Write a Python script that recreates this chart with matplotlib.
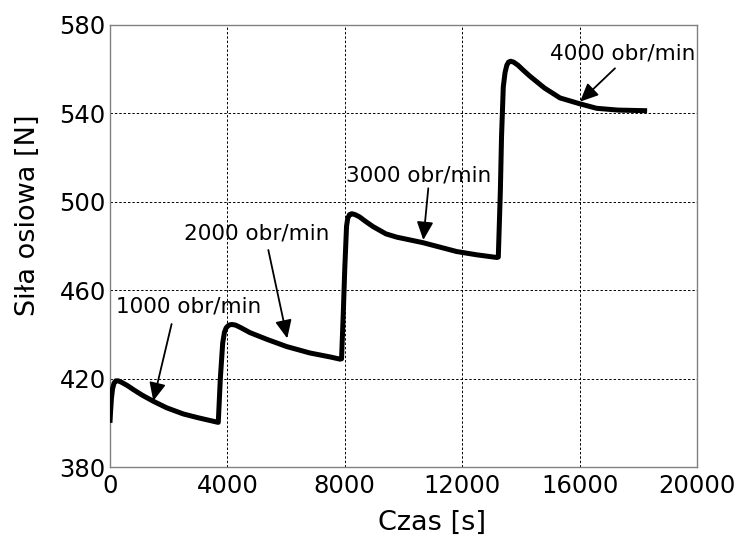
import matplotlib
matplotlib.use("Agg")
import matplotlib.pyplot as plt
import numpy as np

# --- data ---
t1 = [0, 20, 50, 90, 140, 200, 280, 400, 600, 800, 1100, 1470, 1930, 2500, 3000, 3650]
f1 = [400, 405, 411, 415.5, 418, 419, 419, 418.3, 416.8, 415, 412.5, 409.8, 406.8, 404, 402.3, 400.3]
t2 = [3690, 3760, 3840, 3900, 3960, 4050, 4150, 4280, 4450, 4770, 5340, 6020, 6810, 7500, 7840]
f2 = [400.2, 420, 436, 441, 443, 444.2, 444.5, 444.2, 443.1, 440.8, 437.8, 434.5, 431.6, 429.8, 428.8]
t3 = [7890, 7950, 8000, 8060, 8100, 8160, 8240, 8350, 8500, 8700, 8960, 9400, 9770, 10665, 11810, 12500, 13180]
f3 = [429, 450, 470, 489, 492.5, 494.2, 494.6, 494.2, 493.2, 491.2, 488.8, 485.5, 484, 481.5, 477.5, 476, 474.8]
t4 = [13230, 13300, 13340, 13400, 13460, 13520, 13580, 13650, 13750, 13900, 14100, 14310, 14800, 15330,
      16015, 16580, 17300, 18300]
f4 = [475, 505, 529.5, 552, 558.5, 561.8, 563.2, 563.6, 563.2, 561.8, 559.3, 556.8, 551.5, 547,
      544.3, 542.3, 541.5, 541.2]

labels = ["1000 obr/min", "2000 obr/min", "3000 obr/min", "4000 obr/min"]
text_xy = [(2680, 452.5), (5008, 485.7), (10527, 512.1), (17460, 567.2)]
arrow_tail = [(2100, 444.7), (5395, 478.2), (10845, 506.1), (17205, 560.4)]
arrow_tip = [(1476, 409.9), (6040, 438.2), (10675, 482.7), (16014, 545.3)]

xticks = [0, 4000, 8000, 12000, 16000, 20000]
yticks = [380, 420, 460, 500, 540, 580]

t = np.array(t1 + t2 + t3 + t4)
f = np.array(f1 + f2 + f3 + f4)

fig = plt.figure(figsize=(7.39, 5.36), dpi=100)
ax = fig.add_axes([0.1488, 0.1287, 0.7944, 0.8247])

ax.plot(t, f, color="black", lw=3.6, solid_joinstyle="round", solid_capstyle="butt", zorder=3)

ax.set_xlim(0, 20000)
ax.set_ylim(380, 580)
ax.set_xticks(xticks)
ax.set_yticks(yticks)
ax.set_yticklabels([str(v) for v in yticks], fontsize=17.5)
ax.set_xticklabels([str(v) for v in xticks], fontsize=17.5)
ax.tick_params(axis="both", length=0)
ax.tick_params(axis="y", pad=3)
ax.tick_params(axis="x", pad=5)

ax.grid(True, color="black", linestyle=(0, (2.5, 2)), linewidth=0.7)
for s in ax.spines.values():
    s.set_color("#808080")
    s.set_linewidth(1.0)

ax.set_xlabel("Czas [s]", fontsize=19.5)
ax.xaxis.label.set_va("center")
ax.xaxis.set_label_coords(0.5486, -0.127)
ax.set_ylabel("Siła osiowa [N]", fontsize=19.5)
ax.yaxis.label.set_va("center")
ax.yaxis.set_label_coords(-0.1397, 0.570)

for lab, (tx, ty), (ax0, ay0), (bx, by) in zip(labels, text_xy, arrow_tail, arrow_tip):
    ax.text(tx, ty, lab, fontsize=15.5, ha="center", va="center", zorder=4)
    ax.annotate("", xy=(bx, by), xytext=(ax0, ay0),
                arrowprops=dict(arrowstyle="-|>,head_length=1.1,head_width=0.5",
                                mutation_scale=10, lw=1.3, color="black",
                                shrinkA=0, shrinkB=0), zorder=4)

fig.savefig("out.png", dpi=100)
